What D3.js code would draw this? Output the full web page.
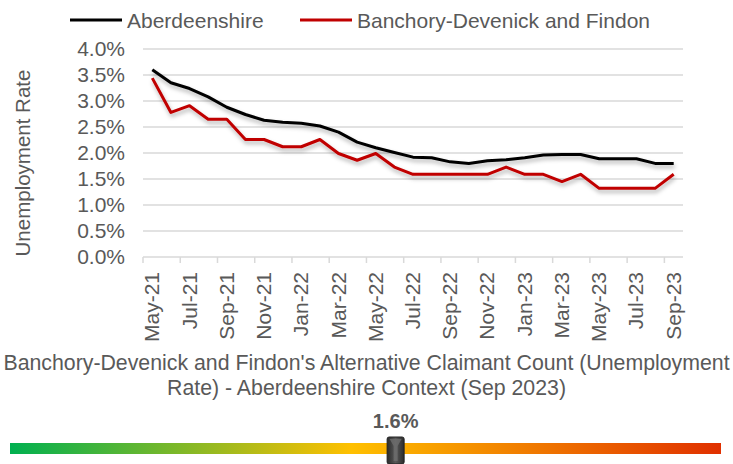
<!DOCTYPE html>
<html>
<head>
<meta charset="utf-8">
<script src="https://cdn.jsdelivr.net/npm/d3@7"></script>
<style>
  html, body { margin: 0; padding: 0; background: #fff; }
  svg { display: block; font-family: "Liberation Sans", Arial, sans-serif; }
</style>
</head>
<body>
<div id="chart"></div>
<script>
// chart data
const months = ['May-21','Jun-21','Jul-21','Aug-21','Sep-21','Oct-21','Nov-21','Dec-21',
  'Jan-22','Feb-22','Mar-22','Apr-22','May-22','Jun-22','Jul-22','Aug-22','Sep-22','Oct-22',
  'Nov-22','Dec-22','Jan-23','Feb-23','Mar-23','Apr-23','May-23','Jun-23','Jul-23','Aug-23','Sep-23'];
const aberdeenshire = [3.60,3.35,3.24,3.08,2.88,2.74,2.63,2.59,2.57,2.52,2.40,2.21,2.10,2.01,1.92,
  1.91,1.83,1.80,1.85,1.87,1.91,1.96,1.97,1.97,1.89,1.89,1.89,1.80,1.80];
const banchory = [3.44,2.78,2.91,2.65,2.65,2.26,2.26,2.12,2.12,2.26,1.99,1.86,1.99,1.73,1.59,
  1.59,1.59,1.59,1.59,1.73,1.59,1.59,1.45,1.59,1.32,1.32,1.32,1.32,1.59];
const seriesNames = ['Aberdeenshire', 'Banchory-Devenick and Findon'];
const yTicks = [0, 0.5, 1.0, 1.5, 2.0, 2.5, 3.0, 3.5, 4.0];
const titleLines = ["Banchory-Devenick and Findon's Alternative Claimant Count (Unemployment",
  "Rate) - Aberdeenshire Context (Sep 2023)"];
const currentValue = 1.6;
const gaugeRange = [0, 2.95];

const W = 733, H = 464;
const margin = {top: 49, right: 50, bottom: 207, left: 143};
const textColor = '#595959';
const font = '"Liberation Sans", Arial, sans-serif';

const svg = d3.select('#chart').append('svg')
  .attr('width', W).attr('height', H);

const defs = svg.append('defs');
const shadow = defs.append('filter').attr('id', 'shadow')
  .attr('x', '-10%').attr('y', '-10%').attr('width', '120%').attr('height', '130%');
shadow.append('feDropShadow')
  .attr('dx', 1).attr('dy', 3).attr('stdDeviation', 2)
  .attr('flood-color', '#000').attr('flood-opacity', 0.3);

const x = d3.scaleBand().domain(months).range([margin.left, W - margin.right]).padding(0);
const y = d3.scaleLinear().domain([0, 4]).range([H - margin.bottom, margin.top]);
const cx = d => x(d) + x.bandwidth() / 2;

// gridlines
svg.append('g').selectAll('line')
  .data(yTicks.filter(t => t > 0))
  .join('line')
    .attr('x1', margin.left).attr('x2', W - margin.right)
    .attr('y1', d => y(d)).attr('y2', d => y(d))
    .attr('stroke', '#d9d9d9').attr('stroke-width', 1.5);

// y axis labels
const yAxis = d3.axisLeft(y).tickValues(yTicks).tickFormat(d => d.toFixed(1) + '%').tickSize(0).tickPadding(18);
const yg = svg.append('g').attr('transform', `translate(${margin.left},0)`).call(yAxis);
yg.select('.domain').remove();
yg.selectAll('text').attr('fill', textColor).attr('font-size', 21).attr('font-family', font);

// x axis
const xg = svg.append('g').attr('transform', `translate(0,${y(0)})`);
xg.append('line')
  .attr('x1', margin.left).attr('x2', W - margin.right)
  .attr('stroke', '#d9d9d9').attr('stroke-width', 1.5);
xg.selectAll('.tick')
  .data(months.filter((d, i) => i % 2 === 0))
  .join('line')
    .attr('x1', d => x(d)).attr('x2', d => x(d))
    .attr('y1', 0).attr('y2', 6)
    .attr('stroke', '#d9d9d9').attr('stroke-width', 1.5);
xg.selectAll('text')
  .data(months.filter((d, i) => i % 2 === 0))
  .join('text')
    .attr('transform', d => `translate(${cx(d) + 7},15) rotate(-90)`)
    .attr('text-anchor', 'end')
    .attr('fill', textColor).attr('font-size', 21)
    .text(d => d);

// y axis title
svg.append('text')
  .attr('transform', `translate(30,${(y(0) + y(4)) / 2 + 10}) rotate(-90)`)
  .attr('text-anchor', 'middle')
  .attr('fill', textColor).attr('font-size', 20.5)
  .text('Unemployment Rate');

// lines
const line = d3.line().x((d, i) => cx(months[i])).y(d => y(d));
svg.append('path').datum(aberdeenshire)
  .attr('d', line).attr('fill', 'none')
  .attr('stroke', '#000').attr('stroke-width', 3).attr('stroke-linejoin', 'round')
  .attr('filter', 'url(#shadow)');
svg.append('path').datum(banchory)
  .attr('d', line).attr('fill', 'none')
  .attr('stroke', '#c00000').attr('stroke-width', 3).attr('stroke-linejoin', 'round')
  .attr('filter', 'url(#shadow)');

// legend
const legendColors = ['#000', '#c00000'];
const legendX = [70, 300];
const lg = svg.append('g').selectAll('g')
  .data(seriesNames)
  .join('g')
    .attr('transform', (d, i) => `translate(${legendX[i]},20)`);
lg.append('line').attr('x1', 0).attr('x2', 52)
  .attr('stroke', (d, i) => legendColors[i]).attr('stroke-width', 3);
lg.append('text').attr('x', 57).attr('y', 7.5)
  .attr('fill', textColor).attr('font-size', 21)
  .text(d => d);

// title
svg.append('g').selectAll('text')
  .data(titleLines)
  .join('text')
    .attr('x', W / 2).attr('y', (d, i) => 370 + i * 25)
    .attr('text-anchor', 'middle')
    .attr('fill', textColor).attr('font-size', 21.3)
    .text(d => d);

// gauge
const grad = defs.append('linearGradient').attr('id', 'gauge');
[['0%', '#00b050'], ['48%', '#ffc000'], ['100%', '#e03000']].forEach(s => {
  grad.append('stop').attr('offset', s[0]).attr('stop-color', s[1]);
});
const gx = d3.scaleLinear().domain(gaugeRange).range([10, 721]);
svg.append('rect')
  .attr('x', gx(gaugeRange[0])).attr('y', 443)
  .attr('width', gx(gaugeRange[1]) - gx(gaugeRange[0])).attr('height', 11)
  .attr('fill', 'url(#gauge)');

const mg = defs.append('linearGradient').attr('id', 'marker');
[['0%', '#2b2b2b'], ['50%', '#5a5a5a'], ['100%', '#2b2b2b']].forEach(s => {
  mg.append('stop').attr('offset', s[0]).attr('stop-color', s[1]);
});
const mx = gx(currentValue);
svg.append('rect')
  .attr('x', mx - 8.5).attr('y', 437).attr('width', 17).attr('height', 27).attr('rx', 2)
  .attr('fill', 'url(#marker)').attr('stroke', '#222').attr('stroke-width', 1);
svg.append('path')
  .attr('d', `M${mx - 6},439 L${mx + 6},439 L${mx + 2},446 L${mx + 2},461 L${mx - 2},461 L${mx - 2},446 Z`)
  .attr('fill', '#6e6e6e').attr('opacity', 0.8);
svg.append('text')
  .attr('x', mx).attr('y', 428)
  .attr('text-anchor', 'middle')
  .attr('fill', textColor).attr('font-size', 20).attr('font-weight', 'bold')
  .attr('font-family', font)
  .text(currentValue.toFixed(1) + '%');
</script>
</body>
</html>
